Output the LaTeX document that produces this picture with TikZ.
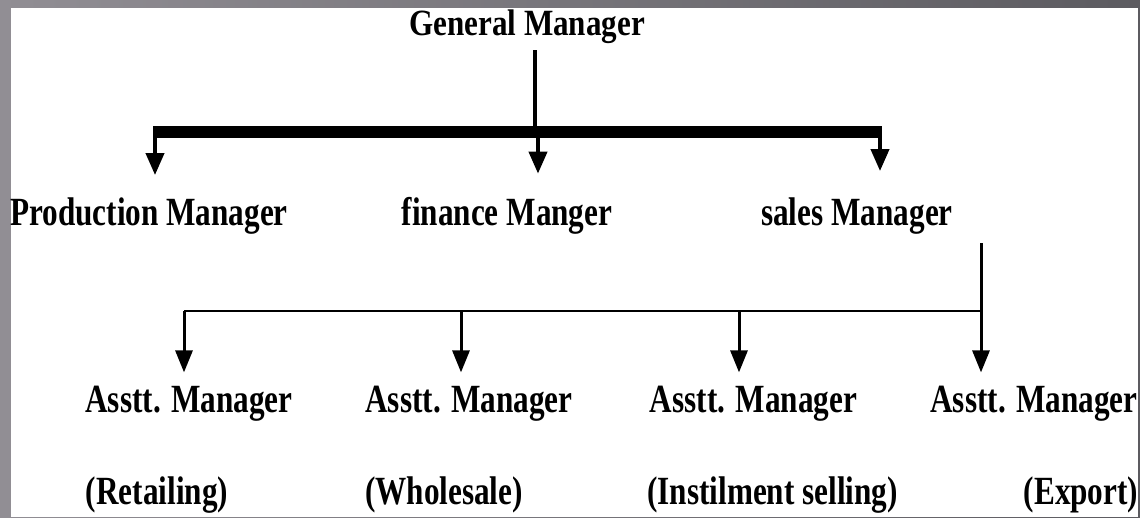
\documentclass[tikz,border=0pt]{standalone}
\usepackage{fontspec}
\setmainfont{Liberation Serif}
% narrow bold serif used for all posts
\newfontfamily\postfont{Liberation Serif}[FakeStretch=0.78]
\newfontfamily\headfont{Liberation Serif}[FakeStretch=0.84]
\usetikzlibrary{arrows.meta}
\definecolor{frameL}{HTML}{918E94}
\definecolor{frameR}{HTML}{5C5B60}

\begin{document}
\begin{tikzpicture}[x=1pt,y=-1pt,
  post/.style={inner sep=0pt, anchor=base,
    font=\postfont\bfseries\fontsize{40}{40}\selectfont},
  headpost/.style={post, font=\headfont\bfseries\fontsize{37}{37}\selectfont},
  heavy/.style={line width=4pt},
  light/.style={line width=3pt},
  bar/.style={line width=12pt},
  rail/.style={line width=2pt},
  bigarrow/.style={line width=4pt, -{Triangle[length=22pt,width=18pt]}},
  smallarrow/.style={line width=3pt, -{Triangle[length=22pt,width=17pt]}},
]
% frame and page
\useasboundingbox (0,0) rectangle (1140,517);
\shade[left color=frameL, right color=frameR] (0,0) rectangle (1140,517);
\fill[white] (11,8) rectangle (1138,517);

% posts
\node[headpost] (gm) at (527,35) {General Manager};

\node[post] (pm) at (149,225) {Production Manager};
\node[post] (fm) at (507,225) {finance Manger};
\node[post] (sm) at (857,225) {sales Manager};

\node[post] (a1) at (189,412) {Asstt. Manager};
\node[post] (a2) at (469,412) {Asstt. Manager};
\node[post] (a3) at (753.5,412) {Asstt. Manager};
\node[post] (a4) at (1034,412) {Asstt. Manager};

\node[post] (r1) at (157,504) {(Retailing)};
\node[post] (r2) at (444,504) {(Wholesale)};
\node[post] (r3) at (772.5,504) {(Instilment selling)};
\node[post] (r4) at (1081,504) {(Export)};

% junction points
\coordinate (barL) at (153,132);
\coordinate (barR) at (882,132);
\coordinate (jP) at (155,132);
\coordinate (jG) at (535,132);
\coordinate (jF) at (538,132);
\coordinate (jS) at (880,132);
\coordinate (railL) at (184,311);
\coordinate (railR) at (982,311);
\coordinate (k1) at (184,311);
\coordinate (k2) at (461,311);
\coordinate (k3) at (739,311);
\coordinate (k4) at (981,311);

% general manager to the three managers
\draw[heavy] ([yshift=-7pt]gm.south -| jG) -- (jG);
\draw[bar] (barL) -- (barR);
\draw[bigarrow] (jP) -- ([yshift=22pt]jP |- pm.north);
\draw[bigarrow] (jF) -- ([yshift=23pt]jF |- fm.north);
\draw[bigarrow] (jS) -- ([yshift=26pt]jS |- sm.north);

% sales manager to the assistant managers
\draw[light] ([yshift=-9pt]sm.south -| k4) -- (k4);
\draw[rail] (railL) -- (railR);
\draw[smallarrow] (k1) -- ([yshift=13pt]k1 |- a1.north);
\draw[smallarrow] (k2) -- ([yshift=13pt]k2 |- a2.north);
\draw[smallarrow] (k3) -- ([yshift=13pt]k3 |- a3.north);
\draw[smallarrow] (k4) -- ([yshift=13pt]k4 |- a4.north);
\end{tikzpicture}
\end{document}
